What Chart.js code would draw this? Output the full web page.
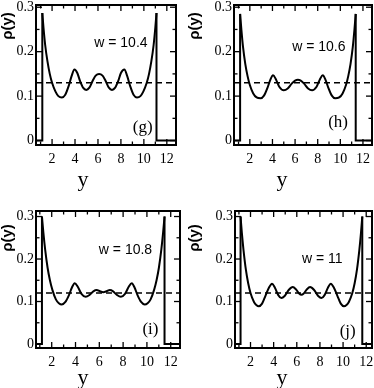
<!DOCTYPE html>
<html>
<head>
<meta charset="utf-8">
<script src="https://cdn.jsdelivr.net/npm/chart.js@4/dist/chart.umd.min.js"></script>
<style>
html,body{margin:0;padding:0;background:#fff;}
#wrap{position:relative;width:374px;height:388px;overflow:hidden;background:#fff;}
canvas{position:absolute;}
</style>
</head>
<body>
<div id="wrap">
<canvas id="cg" width="187" height="194" style="left:0;top:0"></canvas>
<canvas id="ch" width="187" height="194" style="left:187px;top:0"></canvas>
<canvas id="ci" width="187" height="194" style="left:0;top:194px"></canvas>
<canvas id="cj" width="187" height="194" style="left:187px;top:194px"></canvas>
</div>
<script>
// ---------- data ----------
const xTickLabels = [2, 4, 6, 8, 10, 12];
const xMinorTicks = [1, 3, 5, 7, 9, 11];
const yTickLabels = [0, 0.1, 0.2, 0.3];
const yMinorTicks = [0.05, 0.15, 0.25];

const panelLabels = ["(g)", "(h)", "(i)", "(j)"];
const widthLabels = ["w = 10.4", "w = 10.6", "w = 10.8", "w = 11"];
const meanDensity = [0.13, 0.13, 0.12, 0.12];
const contactLeft = [1.15, 1.14, 1.18, 1.14];
const contactRight = [11.1, 11.36, 11.48, 11.66];

const yG_x = [1.15,1.25,1.4,1.6,1.8,2.0,2.3,2.55,2.85,3.15,3.45,3.7,3.95,4.2,4.45,4.7,4.98,5.25,5.55,5.8,6.1,6.4,6.65,6.95,7.22,7.5,7.75,8.0,8.3,8.55,8.8,9.1,9.4,9.7,9.95,10.25,10.45,10.65,10.85,11.0,11.1];
const yG_rho = [0.287,0.255,0.215,0.178,0.150,0.130,0.110,0.100,0.097,0.103,0.123,0.145,0.160,0.152,0.133,0.119,0.114,0.119,0.135,0.146,0.150,0.146,0.135,0.119,0.114,0.119,0.133,0.152,0.160,0.145,0.123,0.103,0.097,0.100,0.110,0.130,0.150,0.178,0.215,0.255,0.287];

const yH_x = [1.14,1.25,1.4,1.6,1.8,2.0,2.3,2.6,2.95,3.25,3.55,3.8,4.05,4.3,4.6,5.0,5.35,5.7,6.0,6.25,6.5,6.8,7.15,7.5,7.9,8.2,8.45,8.7,8.95,9.25,9.55,9.9,10.2,10.5,10.7,10.9,11.1,11.25,11.36];
const yH_rho = [0.285,0.250,0.210,0.172,0.145,0.125,0.106,0.097,0.095,0.101,0.118,0.136,0.147,0.138,0.121,0.113,0.117,0.128,0.135,0.137,0.135,0.128,0.117,0.113,0.121,0.138,0.147,0.136,0.118,0.101,0.095,0.097,0.106,0.125,0.145,0.172,0.210,0.250,0.285];

const yI_x = [1.18,1.3,1.45,1.65,1.85,2.05,2.35,2.6,2.85,3.15,3.45,3.7,3.93,4.2,4.5,4.85,5.2,5.5,5.78,6.05,6.33,6.61,6.88,7.16,7.46,7.81,8.16,8.46,8.73,8.96,9.21,9.51,9.81,10.06,10.31,10.61,10.81,11.01,11.21,11.36,11.48];
const yI_rho = [0.300,0.262,0.222,0.180,0.150,0.128,0.105,0.096,0.093,0.099,0.115,0.133,0.143,0.134,0.118,0.111,0.116,0.124,0.127,0.124,0.122,0.124,0.127,0.124,0.116,0.111,0.118,0.134,0.143,0.133,0.115,0.099,0.093,0.096,0.105,0.128,0.150,0.180,0.222,0.262,0.300];

const yJ_x = [1.14,1.25,1.4,1.6,1.8,2.0,2.3,2.5,2.72,3.0,3.3,3.6,3.86,4.1,4.4,4.67,4.95,5.3,5.65,5.95,6.2,6.4,6.6,6.85,7.15,7.5,7.85,8.13,8.4,8.7,8.94,9.2,9.5,9.8,10.08,10.3,10.5,10.8,11.0,11.2,11.4,11.55,11.66];
const yJ_rho = [0.300,0.262,0.220,0.175,0.143,0.120,0.099,0.092,0.089,0.095,0.114,0.133,0.142,0.133,0.115,0.108,0.113,0.127,0.134,0.128,0.119,0.116,0.119,0.128,0.134,0.127,0.113,0.108,0.115,0.133,0.142,0.133,0.114,0.095,0.089,0.092,0.099,0.120,0.143,0.175,0.220,0.262,0.300];

const curveX = [yG_x, yH_x, yI_x, yJ_x];
const curveRho = [yG_rho, yH_rho, yI_rho, yJ_rho];

// ---------- layout (styles/positions) ----------
const layouts = [
  {id:'cg', left:36, right:176, top:5,  bottom:145, xmin:0.6,  xmax:12.8, ymin:-0.010, ymax:0.305, wPos:[8.0,0.22], pPos:[9.9,0.03], ytPos:[8,26], xtPos:[83,180]},
  {id:'ch', left:47, right:185, top:5,  bottom:145, xmin:0.6,  xmax:12.8, ymin:-0.010, ymax:0.305, wPos:[8.1,0.21], pPos:[9.8,0.04], ytPos:[8,26], xtPos:[95,180]},
  {id:'ci', left:36, right:180, top:17, bottom:154, xmin:0.68, xmax:12.78,ymin:-0.0094,ymax:0.313, wPos:[8.2,0.22], pPos:[10.3,0.035],ytPos:[8,44], xtPos:[83,184]},
  {id:'cj', left:48, right:185, top:17, bottom:154, xmin:0.66, xmax:12.5, ymin:-0.0094,ymax:0.313, wPos:[8.2,0.20], pPos:[10.4,0.03], ytPos:[8,44], xtPos:[95,184]}
];

const framePlugin = {
  id: 'frameTicks',
  afterDatasetsDraw(chart, args, o) {
    const {ctx, chartArea: a, scales: {x, y}} = chart;
    ctx.save();
    ctx.strokeStyle = '#000';
    const seg = (x1, y1, x2, y2) => { ctx.beginPath(); ctx.moveTo(x1, y1); ctx.lineTo(x2, y2); ctx.stroke(); };
    ctx.lineWidth = 1.3;
    xTickLabels.forEach(v => { const p = x.getPixelForValue(v); seg(p, a.bottom, p, a.bottom - 6); seg(p, a.top, p, a.top + 6); });
    xMinorTicks.forEach(v => { const p = x.getPixelForValue(v); seg(p, a.bottom, p, a.bottom - 3.5); seg(p, a.top, p, a.top + 3.5); });
    yTickLabels.forEach(v => { const p = y.getPixelForValue(v); seg(a.left, p, a.left + 6, p); seg(a.right, p, a.right - 6, p); });
    yMinorTicks.forEach(v => { const p = y.getPixelForValue(v); seg(a.left, p, a.left + 3.5, p); seg(a.right, p, a.right - 3.5, p); });
    ctx.lineWidth = 2;
    ctx.strokeRect(a.left, a.top, a.right - a.left, a.bottom - a.top);
    ctx.restore();
  },
  afterDraw(chart, args, o) {
    const {ctx, scales: {x, y}} = chart;
    ctx.save();
    ctx.fillStyle = '#000';
    ctx.textAlign = 'center';
    ctx.textBaseline = 'middle';
    ctx.font = '14px "Liberation Sans", Arial, sans-serif';
    ctx.fillText(o.wText, x.getPixelForValue(o.wPos[0]), y.getPixelForValue(o.wPos[1]));
    ctx.font = '17px "Liberation Serif", "Times New Roman", serif';
    ctx.fillText(o.pText, x.getPixelForValue(o.pPos[0]), y.getPixelForValue(o.pPos[1]));
    ctx.font = '22px "Liberation Serif", "Times New Roman", serif';
    ctx.fillText('y', o.xtPos[0], o.xtPos[1]);
    ctx.translate(o.ytPos[0], o.ytPos[1]);
    ctx.rotate(-Math.PI / 2);
    ctx.font = 'bold 15px "Liberation Sans", Arial, sans-serif';
    ctx.fillText('\u03C1(y)', 0, 0);
    ctx.restore();
  }
};

layouts.forEach((L, i) => {
  const curve = curveX[i].map((v, k) => ({x: v, y: curveRho[i][k]}));
  const walls = [
    {x: L.xmin, y: 0}, {x: contactLeft[i], y: 0}, {x: contactLeft[i], y: curveRho[i][0]},
    {x: NaN, y: null},
    {x: contactRight[i], y: curveRho[i][curveRho[i].length - 1]}, {x: contactRight[i], y: 0}, {x: L.xmax, y: 0}
  ];
  const mean = [{x: L.xmin, y: meanDensity[i]}, {x: L.xmax, y: meanDensity[i]}];
  new Chart(document.getElementById(L.id), {
    type: 'line',
    data: {
      datasets: [
        {data: curve, borderColor: '#000', borderWidth: 2, pointRadius: 0, cubicInterpolationMode: 'monotone', fill: false},
        {data: walls, borderColor: '#000', borderWidth: 2, pointRadius: 0, tension: 0, spanGaps: false, fill: false},
        {data: mean, borderColor: '#000', borderWidth: 1.5, borderDash: [6, 4], pointRadius: 0, tension: 0, fill: false}
      ]
    },
    options: {
      responsive: false,
      devicePixelRatio: 1,
      animation: false,
      events: [],
      layout: {padding: {left: 0, right: 187 - L.right, top: L.top, bottom: 0}},
      plugins: {
        legend: {display: false},
        tooltip: {enabled: false},
        frameTicks: {wText: widthLabels[i], pText: panelLabels[i], wPos: L.wPos, pPos: L.pPos, ytPos: L.ytPos, xtPos: L.xtPos}
      },
      scales: {
        x: {
          type: 'linear', min: L.xmin, max: L.xmax,
          grid: {display: false, drawTicks: false}, border: {display: false},
          afterBuildTicks: s => { s.ticks = xTickLabels.map(v => ({value: v})); },
          ticks: {color: '#000', padding: 6, maxRotation: 0, autoSkip: false,
                  font: {family: '"Liberation Serif", "Times New Roman", serif', size: 14}},
          afterFit: s => { s.height = 194 - L.bottom; s.paddingLeft = 0; s.paddingRight = 0; }
        },
        y: {
          type: 'linear', min: L.ymin, max: L.ymax,
          grid: {display: false, drawTicks: false}, border: {display: false},
          afterBuildTicks: s => { s.ticks = yTickLabels.map(v => ({value: v})); },
          ticks: {color: '#000', padding: 2, autoSkip: false,
                  callback: v => String(v),
                  font: {family: '"Liberation Serif", "Times New Roman", serif', size: 14}},
          afterFit: s => { s.width = L.left; s.paddingTop = 0; s.paddingBottom = 0; }
        }
      }
    },
    plugins: [framePlugin]
  });
});
</script>
</body>
</html>
